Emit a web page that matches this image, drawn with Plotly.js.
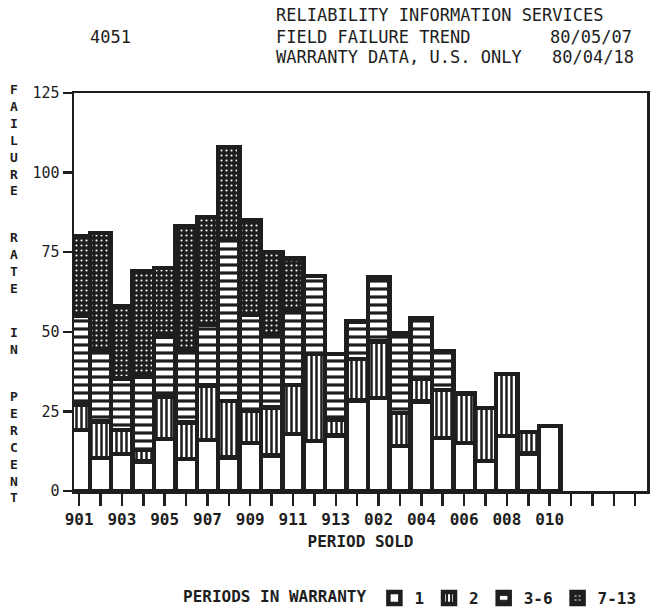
<!DOCTYPE html>
<html>
<head>
<meta charset="utf-8">
<script src="https://cdn.plot.ly/plotly-3.0.1.min.js"></script>
<style>
  html, body { margin: 0; padding: 0; background: #ffffff; }
  #chart { width: 664px; height: 615px; }
</style>
</head>
<body>
<div id="chart"></div>
<script>
// ---- data ----
const categories = ['901','902','903','904','905','906','907','908','909','910','911','912','913',
                    '001','002','003','004','005','006','007','008','009','010'];
const tickLabels = ['901','','903','','905','','907','','909','','911','','913',
                    '','002','','004','','006','','008','','010','','','',''];
const seriesNames = ['1', '2', '3-6', '7-13'];
const period1   = [19.2, 10.4, 11.6, 9.2, 16.3, 10.0, 16.0, 10.6, 15.0, 11.1, 17.9, 15.7, 17.5,
                   28.5, 29.2, 14.2, 28.1, 16.6, 15.0, 9.4, 17.3, 11.8, 20.4];
const period2   = [8.0, 11.4, 7.6, 3.7, 13.4, 11.5, 17.2, 17.6, 10.3, 15.1, 15.4, 27.3, 5.0,
                   13.0, 17.8, 10.3, 7.2, 15.2, 15.7, 16.6, 19.5, 6.8, null];
const period3to6  = [27.8, 22.2, 16.1, 23.1, 18.9, 22.5, 18.9, 50.8, 30.0, 22.5, 23.1, 24.5, 20.5,
                   11.8, 20.0, 25.0, 19.0, 12.2, null, null, null, null, null];
const period7to13 = [25.0, 37.0, 22.7, 33.0, 21.4, 39.0, 33.9, 29.0, 29.7, 26.3, 16.6, null, null,
                   null, null, null, null, null, null, null, null, null, null];
const yTicks = [0, 25, 50, 75, 100, 125];

// ---- styling ----
const INK = '#1e1e1e';
const FONT = 'DejaVu Sans Mono, Liberation Mono, monospace';
const L = 74, R = 647, T = 93, B = 491, W = 664, H = 615;
const px = x => (x - L) / (R - L);
const py = y => (B - y) / (B - T);

const xIdx = categories.map((_, i) => i);
const patterns = [
  {shape: '',  bgcolor: '#ffffff', fgcolor: INK},
  {shape: '|', bgcolor: '#ffffff', fgcolor: INK, size: 5, solidity: 0.5},
  {shape: '-', bgcolor: '#ffffff', fgcolor: INK, size: 8, solidity: 0.4},
  {shape: '.', bgcolor: INK, fgcolor: '#ffffff', size: 5, solidity: 0.14}
];
const values = [period1, period2, period3to6, period7to13];

const traces = values.map((v, k) => ({
  type: 'bar',
  name: seriesNames[k],
  x: xIdx,
  y: v,
  marker: {
    color: '#ffffff',
    pattern: patterns[k],
    line: {color: INK, width: 4.5}
  },
  hoverinfo: 'skip'
}));

const annotations = [];
// header
const hdr = (text, x, y, anchor) => annotations.push({
  text: text, xref: 'paper', yref: 'paper', x: px(x), y: py(y),
  xanchor: anchor, yanchor: 'middle', showarrow: false,
  font: {family: FONT, size: 17, color: INK}
});
hdr('4051', 88, 37, 'left');
hdr('RELIABILITY INFORMATION SERVICES', 274, 15, 'left');
hdr('FIELD FAILURE TREND', 274, 37, 'left');
hdr('80/05/07', 634, 37, 'right');
hdr('WARRANTY DATA, U.S. ONLY', 274, 57, 'left');
hdr('80/04/18', 636, 57, 'right');

// vertical stacked-letter y title, one annotation per word
const yTitleWords = ['FAILURE', 'RATE', 'IN', 'PERCENT'];
const wordTops = [81, 229, 324, 388];
yTitleWords.forEach((w, wi) => {
  annotations.push({
    text: w.split('').join('<br>'), xref: 'paper', yref: 'paper',
    x: px(14), y: py(wordTops[wi]),
    xanchor: 'center', yanchor: 'top', showarrow: false, align: 'center',
    borderpad: 0,
    font: {family: FONT, size: 13, color: INK, weight: 'bold'}
  });
});

const layout = {
  width: W, height: H,
  margin: {l: L, r: W - R, t: T, b: H - B, autoexpand: false},
  paper_bgcolor: '#ffffff',
  plot_bgcolor: '#ffffff',
  barmode: 'stack',
  bargap: 0,
  font: {family: FONT, color: INK},
  showlegend: true,
  legend: {
    orientation: 'h',
    x: px(642), xanchor: 'right',
    y: py(598), yanchor: 'middle',
    traceorder: 'normal',
    font: {family: FONT, size: 16, color: INK, weight: 'bold'},
    title: {text: 'PERIODS IN WARRANTY', side: 'left', font: {family: FONT, size: 16, color: INK, weight: 'bold'}},
    bgcolor: 'rgba(0,0,0,0)'
  },
  xaxis: {
    range: [-0.24, 26.55],
    tickmode: 'array',
    tickvals: tickLabels.map((_, i) => i),
    ticktext: tickLabels,
    ticks: 'outside', ticklen: 12, tickwidth: 2.5, tickcolor: INK,
    showline: true, linecolor: INK, linewidth: 2.5, mirror: true,
    showgrid: false, zeroline: false,
    tickfont: {family: FONT, size: 16, color: INK, weight: 'bold'},
    title: {text: 'PERIOD SOLD', font: {family: FONT, size: 16, color: INK, weight: 'bold'}, standoff: 8},
    fixedrange: true
  },
  yaxis: {
    range: [0, 125],
    tickmode: 'array',
    tickvals: yTicks,
    ticktext: yTicks.map(String),
    ticks: 'outside', ticklen: 9, tickwidth: 2.5, tickcolor: INK,
    showline: true, linecolor: INK, linewidth: 2.5, mirror: true,
    showgrid: false, zeroline: false,
    tickfont: {family: FONT, size: 15, color: INK},
    fixedrange: true
  },
  annotations: annotations
};

Plotly.newPlot('chart', traces, layout, {displayModeBar: false, staticPlot: true});
</script>
</body>
</html>
